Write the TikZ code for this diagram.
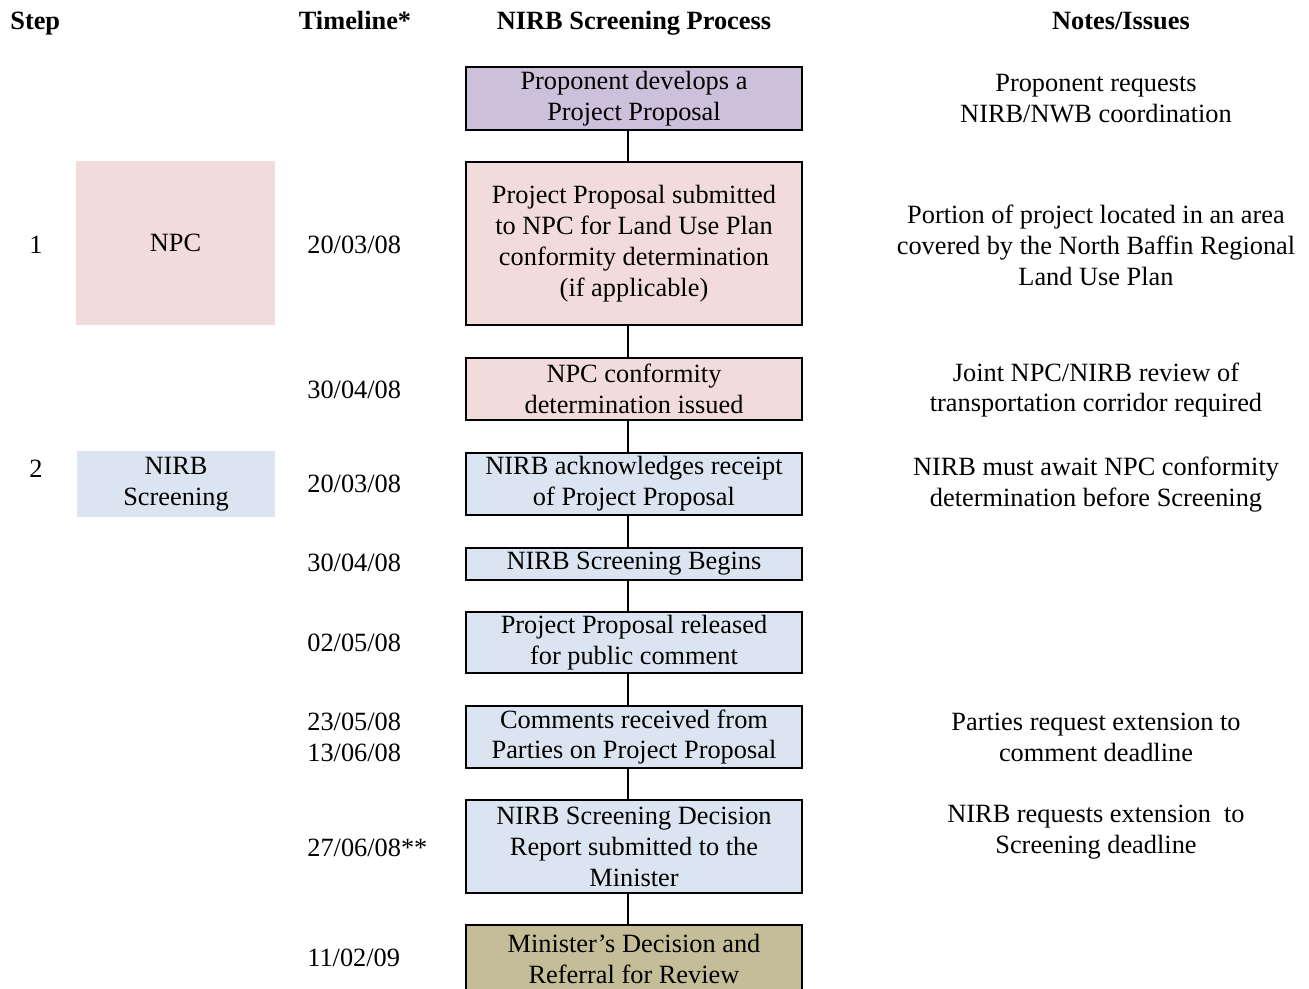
\documentclass[tikz,border=0pt]{standalone}
\usepackage{fontspec}
\setmainfont{Liberation Serif}
\definecolor{proponentfill}{RGB}{204,192,218}
\definecolor{npcfill}{RGB}{242,220,219}
\definecolor{nirbfill}{RGB}{219,229,241}
\definecolor{ministerfill}{RGB}{196,189,151}

\begin{document}
\begin{tikzpicture}[x=0.02cm, y=-0.02cm,
  every node/.style={font=\fontsize{15}{17.6}\selectfont, align=center},
  heading/.style={font=\fontsize{15}{17.6}\selectfont\bfseries, anchor=base},
  procbox/.style={draw, line width=1.1pt, minimum width=6.72cm, inner sep=2pt},
  stepbox/.style={minimum width=3.98cm},
  datelabel/.style={anchor=west, inner sep=0pt, align=left}]
				\useasboundingbox (0,0) rectangle (1309,988);
				\clip (0,0) rectangle (1309,988);
				% column headings
				\node[heading, anchor=base west, inner sep=0pt] (hStep) at (10,29) {Step};
				\node[heading] (hTime) at (355,29) {Timeline*};
				\node[heading] (hProc) at (634,29) {NIRB Screening Process};
				\node[heading] (hNotes) at (1121,29) {Notes/Issues};

				% steps
				\node[] (one) at (36,245) {1};
				\node[stepbox, fill=npcfill, minimum height=3.28cm] (npc) at (175.5,243) {NPC};
				\node[] (two) at (36,469) {2};
				\node[stepbox, fill=nirbfill, minimum height=1.26cm] (nirb) at (176,484) {NIRB\\Screening};

				% process
				\node[procbox, fill=proponentfill, minimum height=1.26cm] (develop) at (634,98.5) {Proponent develops a\\Project Proposal};
				\node[procbox, fill=npcfill, minimum height=3.26cm] (submit) at (634,243.5) {Project Proposal submitted\\to NPC for Land Use Plan\\conformity determination\\(if applicable)};
				\node[procbox, fill=npcfill, minimum height=1.24cm] (conform) at (634,389) {NPC conformity\\determination issued};
				\node[procbox, fill=nirbfill, minimum height=1.24cm] (receipt) at (634,484) {NIRB acknowledges receipt\\of Project Proposal};
				\node[procbox, fill=nirbfill, minimum height=0.64cm] (begins) at (634,564) {NIRB Screening Begins};
				\node[procbox, fill=nirbfill, minimum height=1.22cm] (release) at (634,642.5) {Project Proposal released\\for public comment};
				\node[procbox, fill=nirbfill, minimum height=1.24cm] (comments) at (634,737) {Comments received from\\Parties on Project Proposal};
				\node[procbox, fill=nirbfill, minimum height=1.86cm] (report) at (634,846.5) {NIRB Screening Decision\\Report submitted to the\\Minister};
				\node[procbox, fill=ministerfill, minimum height=1.36cm] (minister) at (634,959) {Minister’s Decision and\\Referral for Review};

				\foreach \a/\b in {develop/submit, submit/conform, conform/receipt, receipt/begins, begins/release, release/comments, comments/report, report/minister}
					\draw[line width=1.1pt] ([xshift=-0.12cm]\a.south) -- ([xshift=-0.12cm]\b.north);

				% timeline
				\node[datelabel] (t1) at (307,245) {20/03/08};
				\node[datelabel] (t2) at (307,390) {30/04/08};
				\node[datelabel] (t3) at (307,484) {20/03/08};
				\node[datelabel] (t4) at (307,563) {30/04/08};
				\node[datelabel] (t5) at (307,643) {02/05/08};
				\node[datelabel] (t6) at (307,737) {23/05/08\\13/06/08};
				\node[datelabel] (t7) at (307,848) {27/06/08**};
				\node[datelabel] (t8) at (307,958) {11/02/09};

				% notes
				\node[] (n1) at (1096,99) {Proponent requests\\NIRB/NWB coordination};
				\node[] (n2) at (1096,245) {Portion of project located in an area\\covered by the North Baffin Regional\\Land Use Plan};
				\node[] (n3) at (1096,390) {Joint NPC/NIRB review of\\transportation corridor required};
				\node[] (n4) at (1096,484.5) {NIRB must await NPC conformity\\determination before Screening};
				\node[] (n5) at (1096,737.5) {Parties request extension to\\comment deadline};
				\node[] (n6) at (1096,832.5) {NIRB requests extension\ \ to\\Screening deadline};
			\end{tikzpicture}
\end{document}
